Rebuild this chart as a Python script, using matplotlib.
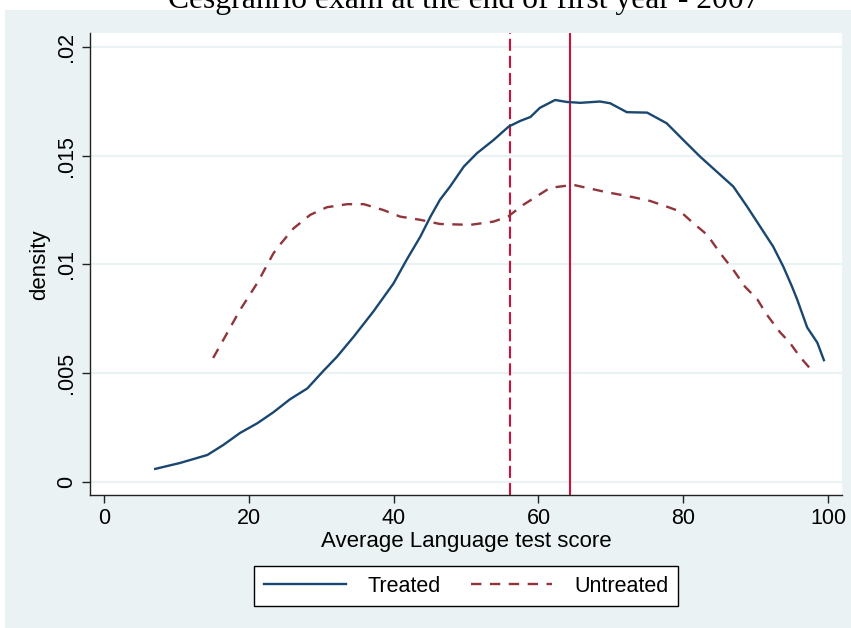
import matplotlib.pyplot as plt
from matplotlib.patches import Rectangle

# 读取自图片的核密度曲线（分数, 密度）
treated_x = [7.1, 10.5, 14.3, 16.5, 18.8, 21.2, 23.4, 25.7, 28.1, 30.3, 32.2, 34.5,
             37.2, 40.0, 41.8, 43.7, 45.1, 46.4, 47.8, 49.7, 51.5, 53.8, 55.9, 57.5,
             58.9, 60.2, 62.3, 63.9, 65.8, 68.5, 69.9, 72.2, 75.0, 77.7, 80.0, 82.3,
             84.6, 86.9, 88.8, 90.6, 92.4, 93.8, 95.0, 95.7, 97.1, 98.5, 99.4]
treated_y = [0.0006, 0.00087, 0.00124, 0.0017, 0.00225, 0.0027, 0.0032, 0.0038, 0.0043,
             0.0051, 0.00576, 0.00668, 0.00783, 0.00913, 0.01021, 0.01128, 0.0122,
             0.01297, 0.01358, 0.0145, 0.01511, 0.01572, 0.01634, 0.0166, 0.01678,
             0.0172, 0.01756, 0.01747, 0.01743, 0.01749, 0.01741, 0.0170, 0.01698,
             0.01649, 0.01572, 0.01496, 0.01427, 0.01358, 0.01266, 0.01174, 0.01082,
             0.0099, 0.00898, 0.0084, 0.0071, 0.0064, 0.0056]

untreated_x = [15.1, 16.5, 18.8, 21.2, 23.4, 24.1, 26.2, 28.5, 30.8, 33.6, 35.9, 38.6,
               40.9, 43.7, 46.4, 50.6, 53.8, 55.8, 57.9, 61.6, 64.8, 69.0, 73.1, 75.4,
               77.7, 79.6, 81.4, 83.3, 85.1, 86.9, 88.5, 90.2, 91.5, 93.3, 94.7, 96.1,
               97.8]
untreated_y = [0.0057, 0.00653, 0.0079, 0.00915, 0.0105, 0.01082, 0.01166, 0.01228,
               0.01263, 0.01277, 0.01277, 0.0125, 0.0122, 0.01205, 0.01186, 0.01182,
               0.01197, 0.0122, 0.01274, 0.01352, 0.01366, 0.01335, 0.01309, 0.01292,
               0.01266, 0.01243, 0.01189, 0.01136, 0.01051, 0.00975, 0.00898, 0.0084,
               0.0077, 0.0069, 0.0064, 0.00575, 0.0051]

# 两组均值（竖线）
mean_untreated = 56.1
mean_treated = 64.4

xticks = [0, 20, 40, 60, 80, 100]
yticks = [0, 0.005, 0.01, 0.015, 0.02]
ytick_labels = ['0', '.005', '.01', '.015', '.02']

title = 'Cesgranrio exam at the end of first year - 2007'
xlabel = 'Average Language test score'
ylabel = 'density'
series_names = ['Treated', 'Untreated']

W, H = 851, 628
BG = '#EAF2F3'
NAVY = '#1A476F'
MAROON = '#90353B'
CRIMSON = '#D0103A'


def main():
    plt.rcParams['font.family'] = ['Liberation Sans', 'DejaVu Sans']
    fig = plt.figure(figsize=(W / 100, H / 100), dpi=100, facecolor='white')

    # Stata 风格的浅色背景
    fig.patches.append(Rectangle((5 / W, 0), 1 - 5 / W, 1 - 10 / H,
                                 transform=fig.transFigure, facecolor=BG,
                                 edgecolor='none', zorder=-10))

    ax = fig.add_axes([90 / W, 1 - 495 / H, (842 - 90) / W, (495 - 33) / H])
    ax.set_zorder(1)
    ax.set_facecolor('white')

    for yv in yticks:
        ax.axhline(yv, color=BG, linewidth=1.6, zorder=1)

    ax.plot(treated_x, treated_y, color=NAVY, linewidth=1.7, zorder=3,
            label=series_names[0])
    ax.plot(untreated_x, untreated_y, color=MAROON, linewidth=1.7, zorder=3,
            linestyle=(0, (4.4, 3.6)), label=series_names[1])

    ax.axvline(mean_untreated, color=CRIMSON, linewidth=1.5, linestyle=(0, (5.8, 2.4)), zorder=2)
    ax.axvline(mean_treated, color=CRIMSON, linewidth=1.5, zorder=2)

    ax.set_xlim(-1.9, 101.9)
    ax.set_ylim(-0.0006, 0.02064)

    for side in ['top', 'right']:
        ax.spines[side].set_visible(False)
    for side in ['left', 'bottom']:
        ax.spines[side].set_color('#222222')
        ax.spines[side].set_linewidth(1.0)

    ax.set_xticks(xticks)
    ax.set_xticklabels([str(v) for v in xticks])
    ax.set_yticks(yticks)
    ax.set_yticklabels(ytick_labels)
    ax.tick_params(axis='both', direction='out', length=6, width=1.0,
                   color='#222222', labelsize=15.5, pad=3)
    for lab in ax.get_yticklabels():
        lab.set_rotation(90)
        lab.set_va('center')

    fig.text(466 / W, 1 - 541 / H, xlabel, ha='center', va='center', fontsize=16)
    fig.text(40 / W, 1 - 265 / H, ylabel, ha='center', va='center', fontsize=16,
             rotation=90)

    fig.text(464 / W, 1 - 8 / H, title, ha='center', va='baseline', fontsize=22.8,
             family=['Liberation Serif', 'DejaVu Serif'])

    leg = fig.legend(loc='center', bbox_to_anchor=(466 / W, 1 - 586 / H), ncol=2,
                     fontsize=15.5, frameon=True, fancybox=False, framealpha=1,
                     edgecolor='black', handlelength=3.8, handletextpad=1.0,
                     columnspacing=1.4, borderpad=0.45)
    leg.get_frame().set_linewidth(1.0)

    plt.savefig('out.png', dpi=100, facecolor='white')


if __name__ == '__main__':
    main()
